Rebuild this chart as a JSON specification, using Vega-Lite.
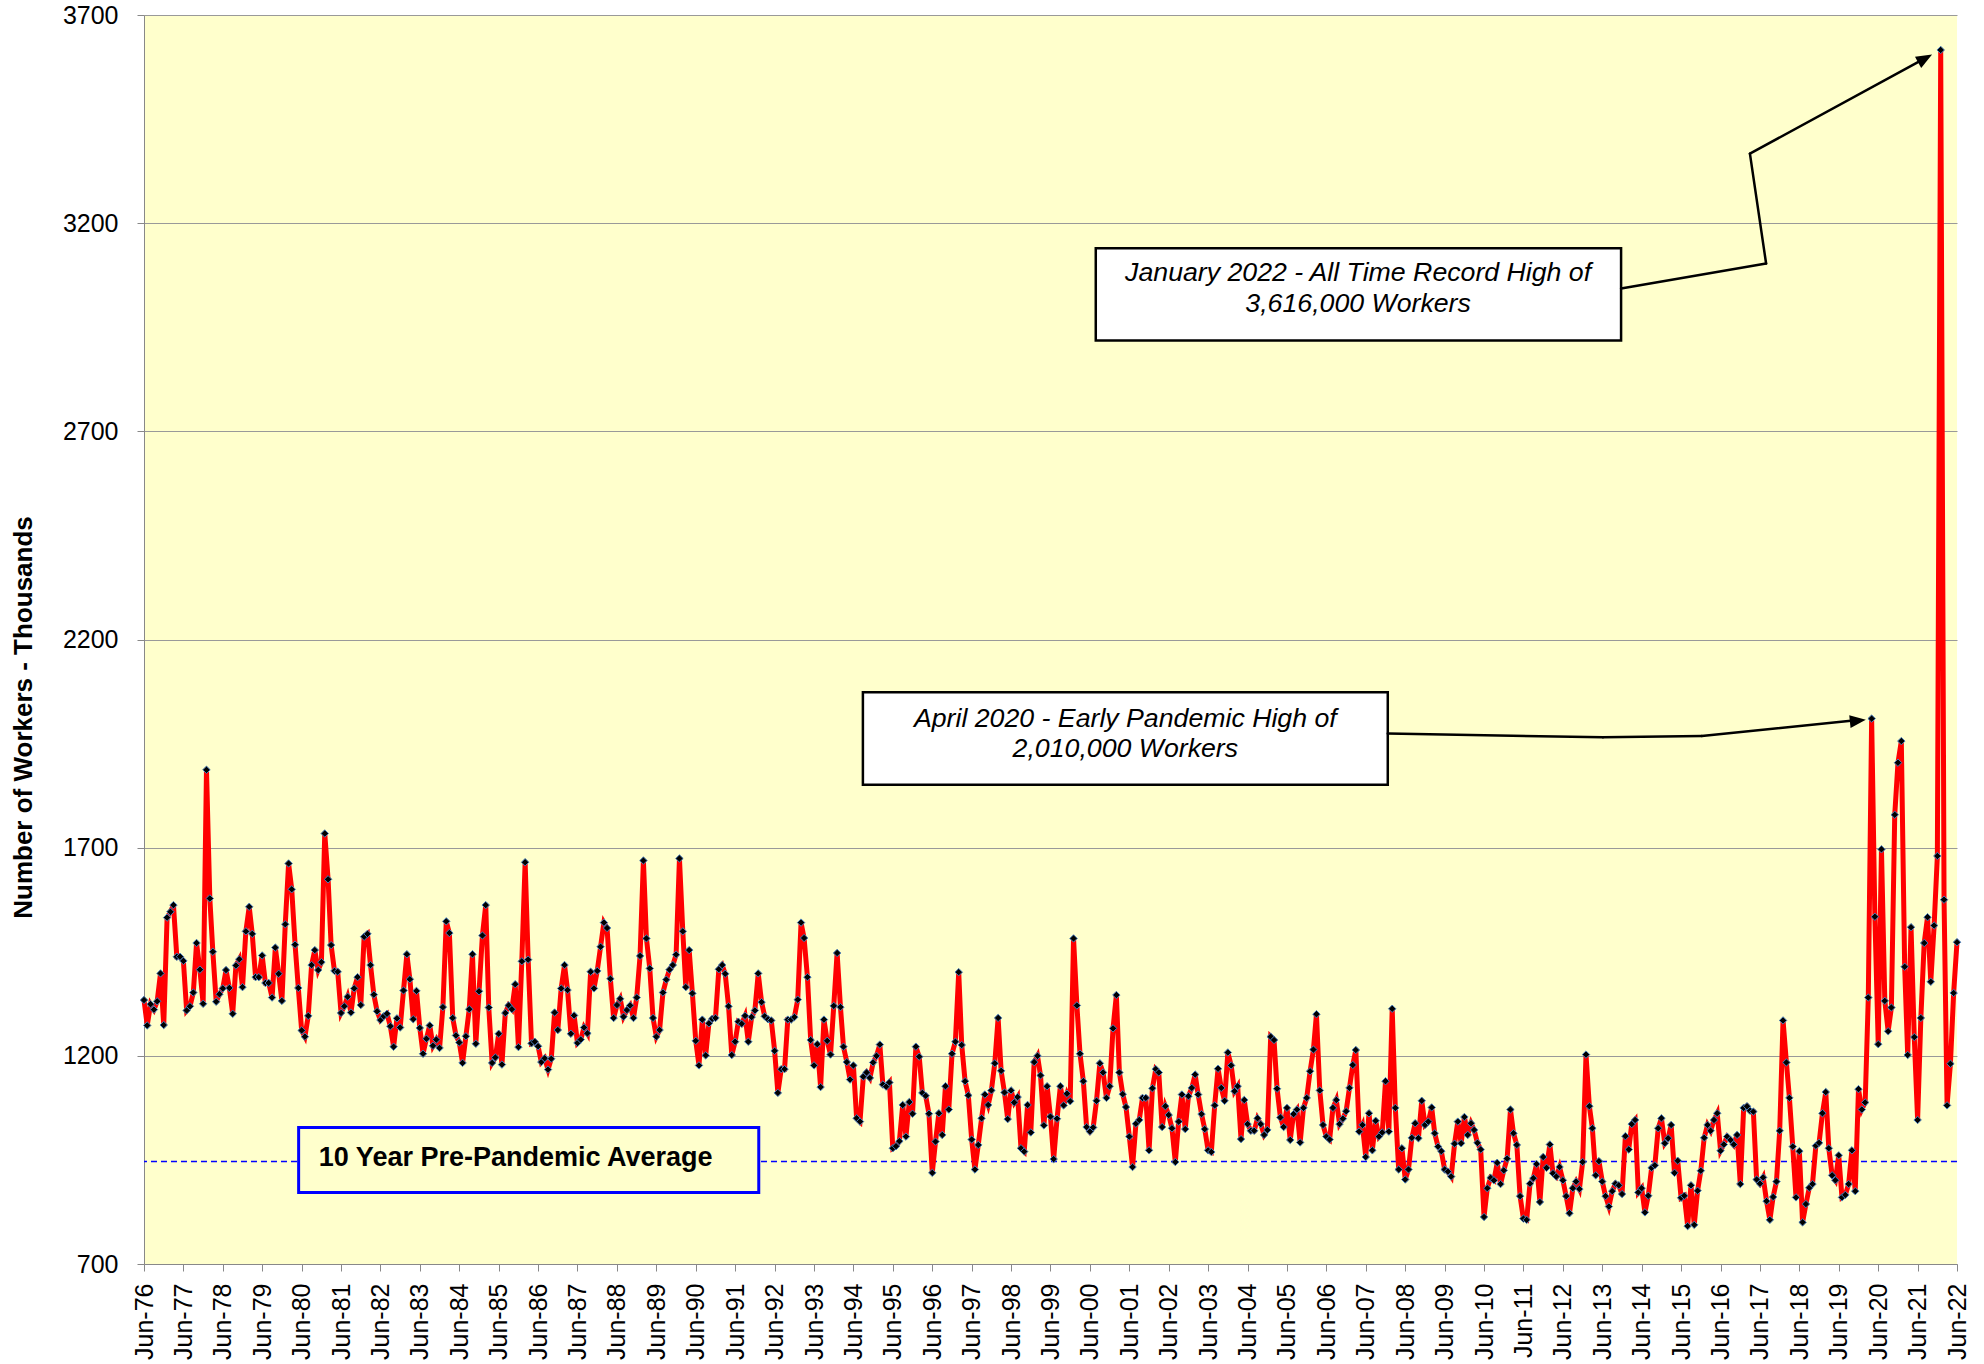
{
"$schema": "https://vega.github.io/schema/vega-lite/v6.json",
"width": 1813, "height": 1249,
"autosize": {"type": "none"},
"padding": {"left": 144, "top": 15, "right": 27, "bottom": 100},
"background": "white",
"config": {"view": {"fill": "#FFFFCC", "stroke": null}, "font": "Liberation Sans", "axis": {"labelOverlap": false, "labelSeparation": 0}},
"data": {"values": [
{"d":"1976-06","v":1334},{"d":"1976-07","v":1273},{"d":"1976-08","v":1324},{"d":"1976-09","v":1311},{"d":"1976-10","v":1331},{"d":"1976-11","v":1398},{"d":"1976-12","v":1274},
{"d":"1977-01","v":1532},{"d":"1977-02","v":1546},{"d":"1977-03","v":1562},{"d":"1977-04","v":1438},{"d":"1977-05","v":1438},{"d":"1977-06","v":1428},{"d":"1977-07","v":1309},{"d":"1977-08","v":1319},{"d":"1977-09","v":1352},{"d":"1977-10","v":1471},{"d":"1977-11","v":1407},{"d":"1977-12","v":1325},
{"d":"1978-01","v":1887},{"d":"1978-02","v":1578},{"d":"1978-03","v":1450},{"d":"1978-04","v":1330},{"d":"1978-05","v":1348},{"d":"1978-06","v":1362},{"d":"1978-07","v":1406},{"d":"1978-08","v":1363},{"d":"1978-09","v":1301},{"d":"1978-10","v":1417},{"d":"1978-11","v":1432},{"d":"1978-12","v":1365},
{"d":"1979-01","v":1499},{"d":"1979-02","v":1558},{"d":"1979-03","v":1493},{"d":"1979-04","v":1389},{"d":"1979-05","v":1389},{"d":"1979-06","v":1441},{"d":"1979-07","v":1375},{"d":"1979-08","v":1375},{"d":"1979-09","v":1340},{"d":"1979-10","v":1460},{"d":"1979-11","v":1397},{"d":"1979-12","v":1332},
{"d":"1980-01","v":1516},{"d":"1980-02","v":1662},{"d":"1980-03","v":1600},{"d":"1980-04","v":1467},{"d":"1980-05","v":1363},{"d":"1980-06","v":1261},{"d":"1980-07","v":1246},{"d":"1980-08","v":1296},{"d":"1980-09","v":1418},{"d":"1980-10","v":1454},{"d":"1980-11","v":1406},{"d":"1980-12","v":1425},
{"d":"1981-01","v":1734},{"d":"1981-02","v":1624},{"d":"1981-03","v":1466},{"d":"1981-04","v":1404},{"d":"1981-05","v":1402},{"d":"1981-06","v":1303},{"d":"1981-07","v":1319},{"d":"1981-08","v":1342},{"d":"1981-09","v":1304},{"d":"1981-10","v":1362},{"d":"1981-11","v":1389},{"d":"1981-12","v":1322},
{"d":"1982-01","v":1486},{"d":"1982-02","v":1493},{"d":"1982-03","v":1418},{"d":"1982-04","v":1347},{"d":"1982-05","v":1307},{"d":"1982-06","v":1286},{"d":"1982-07","v":1295},{"d":"1982-08","v":1301},{"d":"1982-09","v":1271},{"d":"1982-10","v":1222},{"d":"1982-11","v":1290},{"d":"1982-12","v":1268},
{"d":"1983-01","v":1357},{"d":"1983-02","v":1444},{"d":"1983-03","v":1384},{"d":"1983-04","v":1288},{"d":"1983-05","v":1356},{"d":"1983-06","v":1267},{"d":"1983-07","v":1205},{"d":"1983-08","v":1241},{"d":"1983-09","v":1273},{"d":"1983-10","v":1224},{"d":"1983-11","v":1239},{"d":"1983-12","v":1219},
{"d":"1984-01","v":1317},{"d":"1984-02","v":1523},{"d":"1984-03","v":1495},{"d":"1984-04","v":1291},{"d":"1984-05","v":1249},{"d":"1984-06","v":1232},{"d":"1984-07","v":1183},{"d":"1984-08","v":1247},{"d":"1984-09","v":1312},{"d":"1984-10","v":1444},{"d":"1984-11","v":1229},{"d":"1984-12","v":1355},
{"d":"1985-01","v":1489},{"d":"1985-02","v":1562},{"d":"1985-03","v":1316},{"d":"1985-04","v":1183},{"d":"1985-05","v":1196},{"d":"1985-06","v":1253},{"d":"1985-07","v":1179},{"d":"1985-08","v":1303},{"d":"1985-09","v":1321},{"d":"1985-10","v":1312},{"d":"1985-11","v":1372},{"d":"1985-12","v":1221},
{"d":"1986-01","v":1427},{"d":"1986-02","v":1665},{"d":"1986-03","v":1431},{"d":"1986-04","v":1230},{"d":"1986-05","v":1234},{"d":"1986-06","v":1223},{"d":"1986-07","v":1185},{"d":"1986-08","v":1194},{"d":"1986-09","v":1167},{"d":"1986-10","v":1193},{"d":"1986-11","v":1304},{"d":"1986-12","v":1262},
{"d":"1987-01","v":1362},{"d":"1987-02","v":1418},{"d":"1987-03","v":1358},{"d":"1987-04","v":1253},{"d":"1987-05","v":1297},{"d":"1987-06","v":1231},{"d":"1987-07","v":1239},{"d":"1987-08","v":1268},{"d":"1987-09","v":1254},{"d":"1987-10","v":1402},{"d":"1987-11","v":1362},{"d":"1987-12","v":1404},
{"d":"1988-01","v":1462},{"d":"1988-02","v":1520},{"d":"1988-03","v":1507},{"d":"1988-04","v":1385},{"d":"1988-05","v":1291},{"d":"1988-06","v":1322},{"d":"1988-07","v":1337},{"d":"1988-08","v":1294},{"d":"1988-09","v":1310},{"d":"1988-10","v":1321},{"d":"1988-11","v":1291},{"d":"1988-12","v":1340},
{"d":"1989-01","v":1440},{"d":"1989-02","v":1669},{"d":"1989-03","v":1482},{"d":"1989-04","v":1410},{"d":"1989-05","v":1291},{"d":"1989-06","v":1246},{"d":"1989-07","v":1262},{"d":"1989-08","v":1352},{"d":"1989-09","v":1383},{"d":"1989-10","v":1407},{"d":"1989-11","v":1418},{"d":"1989-12","v":1443},
{"d":"1990-01","v":1674},{"d":"1990-02","v":1499},{"d":"1990-03","v":1365},{"d":"1990-04","v":1454},{"d":"1990-05","v":1350},{"d":"1990-06","v":1236},{"d":"1990-07","v":1177},{"d":"1990-08","v":1287},{"d":"1990-09","v":1201},{"d":"1990-10","v":1278},{"d":"1990-11","v":1289},{"d":"1990-12","v":1291},
{"d":"1991-01","v":1408},{"d":"1991-02","v":1418},{"d":"1991-03","v":1397},{"d":"1991-04","v":1319},{"d":"1991-05","v":1202},{"d":"1991-06","v":1234},{"d":"1991-07","v":1282},{"d":"1991-08","v":1277},{"d":"1991-09","v":1296},{"d":"1991-10","v":1234},{"d":"1991-11","v":1293},{"d":"1991-12","v":1309},
{"d":"1992-01","v":1398},{"d":"1992-02","v":1329},{"d":"1992-03","v":1295},{"d":"1992-04","v":1288},{"d":"1992-05","v":1285},{"d":"1992-06","v":1212},{"d":"1992-07","v":1111},{"d":"1992-08","v":1168},{"d":"1992-09","v":1168},{"d":"1992-10","v":1287},{"d":"1992-11","v":1287},{"d":"1992-12","v":1293},
{"d":"1993-01","v":1335},{"d":"1993-02","v":1520},{"d":"1993-03","v":1483},{"d":"1993-04","v":1389},{"d":"1993-05","v":1238},{"d":"1993-06","v":1177},{"d":"1993-07","v":1228},{"d":"1993-08","v":1125},{"d":"1993-09","v":1287},{"d":"1993-10","v":1236},{"d":"1993-11","v":1203},{"d":"1993-12","v":1320},
{"d":"1994-01","v":1447},{"d":"1994-02","v":1317},{"d":"1994-03","v":1222},{"d":"1994-04","v":1185},{"d":"1994-05","v":1143},{"d":"1994-06","v":1177},{"d":"1994-07","v":1050},{"d":"1994-08","v":1042},{"d":"1994-09","v":1150},{"d":"1994-10","v":1160},{"d":"1994-11","v":1147},{"d":"1994-12","v":1184},
{"d":"1995-01","v":1200},{"d":"1995-02","v":1227},{"d":"1995-03","v":1131},{"d":"1995-04","v":1126},{"d":"1995-05","v":1136},{"d":"1995-06","v":978},{"d":"1995-07","v":983},{"d":"1995-08","v":995},{"d":"1995-09","v":1082},{"d":"1995-10","v":1006},{"d":"1995-11","v":1089},{"d":"1995-12","v":1061},
{"d":"1996-01","v":1222},{"d":"1996-02","v":1198},{"d":"1996-03","v":1111},{"d":"1996-04","v":1104},{"d":"1996-05","v":1061},{"d":"1996-06","v":919},{"d":"1996-07","v":994},{"d":"1996-08","v":1062},{"d":"1996-09","v":1010},{"d":"1996-10","v":1127},{"d":"1996-11","v":1071},{"d":"1996-12","v":1205},
{"d":"1997-01","v":1234},{"d":"1997-02","v":1401},{"d":"1997-03","v":1226},{"d":"1997-04","v":1139},{"d":"1997-05","v":1105},{"d":"1997-06","v":999},{"d":"1997-07","v":927},{"d":"1997-08","v":986},{"d":"1997-09","v":1050},{"d":"1997-10","v":1107},{"d":"1997-11","v":1082},{"d":"1997-12","v":1117},
{"d":"1998-01","v":1182},{"d":"1998-02","v":1291},{"d":"1998-03","v":1164},{"d":"1998-04","v":1112},{"d":"1998-05","v":1048},{"d":"1998-06","v":1117},{"d":"1998-07","v":1088},{"d":"1998-08","v":1101},{"d":"1998-09","v":978},{"d":"1998-10","v":970},{"d":"1998-11","v":1082},{"d":"1998-12","v":1016},
{"d":"1999-01","v":1185},{"d":"1999-02","v":1200},{"d":"1999-03","v":1153},{"d":"1999-04","v":1033},{"d":"1999-05","v":1127},{"d":"1999-06","v":1054},{"d":"1999-07","v":952},{"d":"1999-08","v":1049},{"d":"1999-09","v":1127},{"d":"1999-10","v":1081},{"d":"1999-11","v":1109},{"d":"1999-12","v":1091},
{"d":"2000-01","v":1482},{"d":"2000-02","v":1321},{"d":"2000-03","v":1205},{"d":"2000-04","v":1139},{"d":"2000-05","v":1029},{"d":"2000-06","v":1018},{"d":"2000-07","v":1028},{"d":"2000-08","v":1092},{"d":"2000-09","v":1182},{"d":"2000-10","v":1160},{"d":"2000-11","v":1099},{"d":"2000-12","v":1127},
{"d":"2001-01","v":1266},{"d":"2001-02","v":1346},{"d":"2001-03","v":1160},{"d":"2001-04","v":1108},{"d":"2001-05","v":1077},{"d":"2001-06","v":1006},{"d":"2001-07","v":933},{"d":"2001-08","v":1037},{"d":"2001-09","v":1046},{"d":"2001-10","v":1099},{"d":"2001-11","v":1099},{"d":"2001-12","v":973},
{"d":"2002-01","v":1122},{"d":"2002-02","v":1168},{"d":"2002-03","v":1160},{"d":"2002-04","v":1029},{"d":"2002-05","v":1079},{"d":"2002-06","v":1058},{"d":"2002-07","v":1026},{"d":"2002-08","v":945},{"d":"2002-09","v":1042},{"d":"2002-10","v":1107},{"d":"2002-11","v":1024},{"d":"2002-12","v":1103},
{"d":"2003-01","v":1123},{"d":"2003-02","v":1155},{"d":"2003-03","v":1107},{"d":"2003-04","v":1060},{"d":"2003-05","v":1024},{"d":"2003-06","v":973},{"d":"2003-07","v":969},{"d":"2003-08","v":1081},{"d":"2003-09","v":1169},{"d":"2003-10","v":1123},{"d":"2003-11","v":1092},{"d":"2003-12","v":1208},
{"d":"2004-01","v":1177},{"d":"2004-02","v":1115},{"d":"2004-03","v":1127},{"d":"2004-04","v":1000},{"d":"2004-05","v":1094},{"d":"2004-06","v":1036},{"d":"2004-07","v":1020},{"d":"2004-08","v":1020},{"d":"2004-09","v":1050},{"d":"2004-10","v":1036},{"d":"2004-11","v":1010},{"d":"2004-12","v":1022},
{"d":"2005-01","v":1246},{"d":"2005-02","v":1238},{"d":"2005-03","v":1121},{"d":"2005-04","v":1052},{"d":"2005-05","v":1029},{"d":"2005-06","v":1075},{"d":"2005-07","v":998},{"d":"2005-08","v":1060},{"d":"2005-09","v":1071},{"d":"2005-10","v":992},{"d":"2005-11","v":1075},{"d":"2005-12","v":1099},
{"d":"2006-01","v":1163},{"d":"2006-02","v":1215},{"d":"2006-03","v":1300},{"d":"2006-04","v":1117},{"d":"2006-05","v":1034},{"d":"2006-06","v":1006},{"d":"2006-07","v":999},{"d":"2006-08","v":1075},{"d":"2006-09","v":1094},{"d":"2006-10","v":1036},{"d":"2006-11","v":1049},{"d":"2006-12","v":1067},
{"d":"2007-01","v":1123},{"d":"2007-02","v":1178},{"d":"2007-03","v":1214},{"d":"2007-04","v":1018},{"d":"2007-05","v":1034},{"d":"2007-06","v":957},{"d":"2007-07","v":1062},{"d":"2007-08","v":973},{"d":"2007-09","v":1044},{"d":"2007-10","v":1006},{"d":"2007-11","v":1016},{"d":"2007-12","v":1139},
{"d":"2008-01","v":1018},{"d":"2008-02","v":1313},{"d":"2008-03","v":1075},{"d":"2008-04","v":927},{"d":"2008-05","v":978},{"d":"2008-06","v":903},{"d":"2008-07","v":927},{"d":"2008-08","v":1003},{"d":"2008-09","v":1038},{"d":"2008-10","v":1002},{"d":"2008-11","v":1092},{"d":"2008-12","v":1034},
{"d":"2009-01","v":1042},{"d":"2009-02","v":1076},{"d":"2009-03","v":1014},{"d":"2009-04","v":982},{"d":"2009-05","v":971},{"d":"2009-06","v":927},{"d":"2009-07","v":922},{"d":"2009-08","v":910},{"d":"2009-09","v":989},{"d":"2009-10","v":1042},{"d":"2009-11","v":990},{"d":"2009-12","v":1053},
{"d":"2010-01","v":1010},{"d":"2010-02","v":1038},{"d":"2010-03","v":1022},{"d":"2010-04","v":991},{"d":"2010-05","v":975},{"d":"2010-06","v":813},{"d":"2010-07","v":882},{"d":"2010-08","v":907},{"d":"2010-09","v":901},{"d":"2010-10","v":943},{"d":"2010-11","v":892},{"d":"2010-12","v":925},
{"d":"2011-01","v":953},{"d":"2011-02","v":1071},{"d":"2011-03","v":1014},{"d":"2011-04","v":986},{"d":"2011-05","v":863},{"d":"2011-06","v":809},{"d":"2011-07","v":806},{"d":"2011-08","v":893},{"d":"2011-09","v":906},{"d":"2011-10","v":940},{"d":"2011-11","v":849},{"d":"2011-12","v":957},
{"d":"2012-01","v":931},{"d":"2012-02","v":987},{"d":"2012-03","v":918},{"d":"2012-04","v":910},{"d":"2012-05","v":933},{"d":"2012-06","v":901},{"d":"2012-07","v":863},{"d":"2012-08","v":822},{"d":"2012-09","v":882},{"d":"2012-10","v":898},{"d":"2012-11","v":880},{"d":"2012-12","v":945},
{"d":"2013-01","v":1203},{"d":"2013-02","v":1079},{"d":"2013-03","v":1026},{"d":"2013-04","v":913},{"d":"2013-05","v":947},{"d":"2013-06","v":898},{"d":"2013-07","v":863},{"d":"2013-08","v":838},{"d":"2013-09","v":875},{"d":"2013-10","v":893},{"d":"2013-11","v":889},{"d":"2013-12","v":868},
{"d":"2014-01","v":1007},{"d":"2014-02","v":975},{"d":"2014-03","v":1036},{"d":"2014-04","v":1046},{"d":"2014-05","v":872},{"d":"2014-06","v":882},{"d":"2014-07","v":824},{"d":"2014-08","v":864},{"d":"2014-09","v":931},{"d":"2014-10","v":937},{"d":"2014-11","v":1026},{"d":"2014-12","v":1050},
{"d":"2015-01","v":990},{"d":"2015-02","v":1002},{"d":"2015-03","v":1034},{"d":"2015-04","v":919},{"d":"2015-05","v":948},{"d":"2015-06","v":859},{"d":"2015-07","v":864},{"d":"2015-08","v":791},{"d":"2015-09","v":889},{"d":"2015-10","v":794},{"d":"2015-11","v":876},{"d":"2015-12","v":924},
{"d":"2016-01","v":1003},{"d":"2016-02","v":1034},{"d":"2016-03","v":1020},{"d":"2016-04","v":1046},{"d":"2016-05","v":1062},{"d":"2016-06","v":972},{"d":"2016-07","v":987},{"d":"2016-08","v":1006},{"d":"2016-09","v":998},{"d":"2016-10","v":987},{"d":"2016-11","v":1010},{"d":"2016-12","v":892},
{"d":"2017-01","v":1075},{"d":"2017-02","v":1079},{"d":"2017-03","v":1068},{"d":"2017-04","v":1066},{"d":"2017-05","v":903},{"d":"2017-06","v":893},{"d":"2017-07","v":908},{"d":"2017-08","v":851},{"d":"2017-09","v":806},{"d":"2017-10","v":861},{"d":"2017-11","v":898},{"d":"2017-12","v":1020},
{"d":"2018-01","v":1285},{"d":"2018-02","v":1184},{"d":"2018-03","v":1099},{"d":"2018-04","v":982},{"d":"2018-05","v":860},{"d":"2018-06","v":971},{"d":"2018-07","v":800},{"d":"2018-08","v":844},{"d":"2018-09","v":883},{"d":"2018-10","v":892},{"d":"2018-11","v":984},{"d":"2018-12","v":991},
{"d":"2019-01","v":1062},{"d":"2019-02","v":1113},{"d":"2019-03","v":978},{"d":"2019-04","v":913},{"d":"2019-05","v":901},{"d":"2019-06","v":961},{"d":"2019-07","v":860},{"d":"2019-08","v":866},{"d":"2019-09","v":892},{"d":"2019-10","v":973},{"d":"2019-11","v":875},{"d":"2019-12","v":1120},
{"d":"2020-01","v":1071},{"d":"2020-02","v":1088},{"d":"2020-03","v":1340},{"d":"2020-04","v":2010},{"d":"2020-05","v":1534},{"d":"2020-06","v":1228},{"d":"2020-07","v":1696},{"d":"2020-08","v":1332},{"d":"2020-09","v":1259},{"d":"2020-10","v":1316},{"d":"2020-11","v":1779},{"d":"2020-12","v":1904},
{"d":"2021-01","v":1956},{"d":"2021-02","v":1414},{"d":"2021-03","v":1202},{"d":"2021-04","v":1509},{"d":"2021-05","v":1245},{"d":"2021-06","v":1046},{"d":"2021-07","v":1291},{"d":"2021-08","v":1471},{"d":"2021-09","v":1533},{"d":"2021-10","v":1378},{"d":"2021-11","v":1513},{"d":"2021-12","v":1680},
{"d":"2022-01","v":3616},{"d":"2022-02","v":1575},{"d":"2022-03","v":1081},{"d":"2022-04","v":1181},{"d":"2022-05","v":1351},{"d":"2022-06","v":1473}
]},
"layer": [
{"mark": {"type": "line", "color": "#FF0000", "strokeWidth": 5, "opacity": 0},
 "encoding": {
  "x": {"field": "d", "type": "temporal",
   "scale": {"type": "utc", "domain": [{"year": 1976, "month": 6, "date": 1, "utc": true}, {"year": 2022, "month": 6, "date": 1, "utc": true}]},
   "axis": {"title": null, "format": "%b-%y", "labelAngle": 270, "labelFontSize": 25, "labelColor": "black", "labelPadding": 12, "tickCount": 100,
    "tickSize": 7, "tickColor": "#888888", "domainColor": "#888888", "grid": false, "labelOverlap": false, "labelSeparation": 0, "labelFlush": false, "labelBound": false,
    "values": [
     {"year":1976,"month":6,"date":1,"utc":true},{"year":1977,"month":6,"date":1,"utc":true},{"year":1978,"month":6,"date":1,"utc":true},{"year":1979,"month":6,"date":1,"utc":true},
     {"year":1980,"month":6,"date":1,"utc":true},{"year":1981,"month":6,"date":1,"utc":true},{"year":1982,"month":6,"date":1,"utc":true},{"year":1983,"month":6,"date":1,"utc":true},
     {"year":1984,"month":6,"date":1,"utc":true},{"year":1985,"month":6,"date":1,"utc":true},{"year":1986,"month":6,"date":1,"utc":true},{"year":1987,"month":6,"date":1,"utc":true},
     {"year":1988,"month":6,"date":1,"utc":true},{"year":1989,"month":6,"date":1,"utc":true},{"year":1990,"month":6,"date":1,"utc":true},{"year":1991,"month":6,"date":1,"utc":true},
     {"year":1992,"month":6,"date":1,"utc":true},{"year":1993,"month":6,"date":1,"utc":true},{"year":1994,"month":6,"date":1,"utc":true},{"year":1995,"month":6,"date":1,"utc":true},
     {"year":1996,"month":6,"date":1,"utc":true},{"year":1997,"month":6,"date":1,"utc":true},{"year":1998,"month":6,"date":1,"utc":true},{"year":1999,"month":6,"date":1,"utc":true},
     {"year":2000,"month":6,"date":1,"utc":true},{"year":2001,"month":6,"date":1,"utc":true},{"year":2002,"month":6,"date":1,"utc":true},{"year":2003,"month":6,"date":1,"utc":true},
     {"year":2004,"month":6,"date":1,"utc":true},{"year":2005,"month":6,"date":1,"utc":true},{"year":2006,"month":6,"date":1,"utc":true},{"year":2007,"month":6,"date":1,"utc":true},
     {"year":2008,"month":6,"date":1,"utc":true},{"year":2009,"month":6,"date":1,"utc":true},{"year":2010,"month":6,"date":1,"utc":true},{"year":2011,"month":6,"date":1,"utc":true},
     {"year":2012,"month":6,"date":1,"utc":true},{"year":2013,"month":6,"date":1,"utc":true},{"year":2014,"month":6,"date":1,"utc":true},{"year":2015,"month":6,"date":1,"utc":true},
     {"year":2016,"month":6,"date":1,"utc":true},{"year":2017,"month":6,"date":1,"utc":true},{"year":2018,"month":6,"date":1,"utc":true},{"year":2019,"month":6,"date":1,"utc":true},
     {"year":2020,"month":6,"date":1,"utc":true},{"year":2021,"month":6,"date":1,"utc":true},{"year":2022,"month":6,"date":1,"utc":true}]}},
  "y": {"field": "v", "type": "quantitative",
   "scale": {"domain": [700, 3700], "nice": false, "zero": false},
   "axis": {"title": "Number of Workers - Thousands", "titleFontSize": 26, "titleFontWeight": "bold", "titleColor": "black", "titlePadding": 26, "titleY": 702,
    "format": "d", "values": [700, 1200, 1700, 2200, 2700, 3200, 3700], "tickCount": 20, "labelFontSize": 25, "labelColor": "black", "labelPadding": 19, "tickSize": 7,
    "tickColor": "#888888", "domainColor": "#888888", "grid": true, "gridColor": "#999999", "gridWidth": 1, "labelFlush": false, "labelBound": false}}}},
{"data": {"values": [{}]},
 "mark": {"type": "rule", "color": "#0000FF", "strokeWidth": 1.5, "strokeDash": [6, 4]},
 "encoding": {"y": {"datum": 946, "type": "quantitative"}}},
{"data": {"values": [{}]},
 "mark": {"type": "rect", "fill": "#FFFFCC", "stroke": "#0000FF", "strokeWidth": 3},
 "encoding": {
  "x": {"datum": {"year": 1980, "month": 5, "date": 4, "utc": true}, "type": "temporal", "scale": {"type": "utc"}},
  "x2": {"datum": {"year": 1992, "month": 1, "date": 6, "utc": true}},
  "y": {"datum": 872, "type": "quantitative"},
  "y2": {"datum": 1028}}},
{"data": {"values": [{}]},
 "mark": {"type": "text", "align": "left", "baseline": "middle", "fontSize": 27, "fontWeight": "bold", "color": "black"},
 "encoding": {
  "x": {"datum": {"year": 1980, "month": 11, "date": 7, "utc": true}, "type": "temporal", "scale": {"type": "utc"}},
  "y": {"datum": 955, "type": "quantitative"},
  "text": {"value": "10 Year Pre-Pandemic Average"}}},
{"mark": {"type": "line", "color": "#FF0000", "strokeWidth": 5},
 "encoding": {
  "x": {"field": "d", "type": "temporal", "scale": {"type": "utc"}},
  "y": {"field": "v", "type": "quantitative"}}},
{"mark": {"type": "point", "shape": "diamond", "filled": true, "fill": "black", "stroke": "#4A7EBB", "strokeWidth": 1, "size": 55, "opacity": 1},
 "encoding": {
  "x": {"field": "d", "type": "temporal", "scale": {"type": "utc"}},
  "y": {"field": "v", "type": "quantitative"}}},
{"data": {"values": [{}]},
 "mark": {"type": "rect", "fill": "white", "stroke": "black", "strokeWidth": 2.5},
 "encoding": {
  "x": {"datum": {"year": 1994, "month": 8, "date": 28, "utc": true}, "type": "temporal", "scale": {"type": "utc"}},
  "x2": {"datum": {"year": 2007, "month": 12, "date": 22, "utc": true}},
  "y": {"datum": 1851, "type": "quantitative"},
  "y2": {"datum": 2073}}},
{"data": {"values": [{}]},
 "mark": {"type": "text", "align": "center", "baseline": "middle", "fontSize": 26.7, "fontStyle": "italic", "color": "black"},
 "encoding": {
  "x": {"datum": {"year": 2001, "month": 4, "date": 25, "utc": true}, "type": "temporal", "scale": {"type": "utc"}},
  "y": {"datum": 2008, "type": "quantitative"},
  "text": {"value": "April 2020 - Early Pandemic High of"}}},
{"data": {"values": [{}]},
 "mark": {"type": "text", "align": "center", "baseline": "middle", "fontSize": 26.7, "fontStyle": "italic", "color": "black"},
 "encoding": {
  "x": {"datum": {"year": 2001, "month": 4, "date": 25, "utc": true}, "type": "temporal", "scale": {"type": "utc"}},
  "y": {"datum": 1936, "type": "quantitative"},
  "text": {"value": "2,010,000 Workers"}}},
{"data": {"values": [{}]},
 "mark": {"type": "rect", "fill": "white", "stroke": "black", "strokeWidth": 2.5},
 "encoding": {
  "x": {"datum": {"year": 2000, "month": 7, "date": 25, "utc": true}, "type": "temporal", "scale": {"type": "utc"}},
  "x2": {"datum": {"year": 2013, "month": 11, "date": 22, "utc": true}},
  "y": {"datum": 2918, "type": "quantitative"},
  "y2": {"datum": 3140}}},
{"data": {"values": [{}]},
 "mark": {"type": "text", "align": "center", "baseline": "middle", "fontSize": 26.7, "fontStyle": "italic", "color": "black"},
 "encoding": {
  "x": {"datum": {"year": 2007, "month": 3, "date": 22, "utc": true}, "type": "temporal", "scale": {"type": "utc"}},
  "y": {"datum": 3080, "type": "quantitative"},
  "text": {"value": "January 2022 - All Time Record High of"}}},
{"data": {"values": [{}]},
 "mark": {"type": "text", "align": "center", "baseline": "middle", "fontSize": 26.7, "fontStyle": "italic", "color": "black"},
 "encoding": {
  "x": {"datum": {"year": 2007, "month": 3, "date": 22, "utc": true}, "type": "temporal", "scale": {"type": "utc"}},
  "y": {"datum": 3005, "type": "quantitative"},
  "text": {"value": "3,616,000 Workers"}}},
{"data": {"values": [{}]},
 "mark": {"type": "rule", "color": "black", "strokeWidth": 2.5, "strokeCap": "round"},
 "encoding": {
  "x": {"datum": {"year": 2007, "month": 12, "date": 22, "utc": true}, "type": "temporal", "scale": {"type": "utc"}},
  "x2": {"datum": {"year": 2013, "month": 6, "date": 7, "utc": true}},
  "y": {"datum": 1974, "type": "quantitative"},
  "y2": {"datum": 1965}}},
{"data": {"values": [{}]},
 "mark": {"type": "rule", "color": "black", "strokeWidth": 2.5, "strokeCap": "round"},
 "encoding": {
  "x": {"datum": {"year": 2013, "month": 6, "date": 7, "utc": true}, "type": "temporal", "scale": {"type": "utc"}},
  "x2": {"datum": {"year": 2015, "month": 12, "date": 10, "utc": true}},
  "y": {"datum": 1965, "type": "quantitative"},
  "y2": {"datum": 1968}}},
{"data": {"values": [{}]},
 "mark": {"type": "rule", "color": "black", "strokeWidth": 2.5, "strokeCap": "round"},
 "encoding": {
  "x": {"datum": {"year": 2015, "month": 12, "date": 10, "utc": true}, "type": "temporal", "scale": {"type": "utc"}},
  "x2": {"datum": {"year": 2019, "month": 9, "date": 22, "utc": true}},
  "y": {"datum": 1968, "type": "quantitative"},
  "y2": {"datum": 2005}}},
{"data": {"values": [{}]},
 "mark": {"type": "point", "shape": "M 0 0 L -2 -0.8 L -2 0.8 Z", "filled": true, "fill": "black", "strokeWidth": 0, "size": 256, "opacity": 1, "angle": 354},
 "encoding": {
  "x": {"datum": {"year": 2020, "month": 2, "date": 7, "utc": true}, "type": "temporal", "scale": {"type": "utc"}},
  "y": {"datum": 2007, "type": "quantitative"}}},
{"data": {"values": [{}]},
 "mark": {"type": "rule", "color": "black", "strokeWidth": 2.5, "strokeCap": "round"},
 "encoding": {
  "x": {"datum": {"year": 2013, "month": 11, "date": 22, "utc": true}, "type": "temporal", "scale": {"type": "utc"}},
  "x2": {"datum": {"year": 2017, "month": 7, "date": 28, "utc": true}},
  "y": {"datum": 3043, "type": "quantitative"},
  "y2": {"datum": 3103}}},
{"data": {"values": [{}]},
 "mark": {"type": "rule", "color": "black", "strokeWidth": 2.5, "strokeCap": "round"},
 "encoding": {
  "x": {"datum": {"year": 2017, "month": 7, "date": 28, "utc": true}, "type": "temporal", "scale": {"type": "utc"}},
  "x2": {"datum": {"year": 2017, "month": 2, "date": 28, "utc": true}},
  "y": {"datum": 3103, "type": "quantitative"},
  "y2": {"datum": 3367}}},
{"data": {"values": [{}]},
 "mark": {"type": "rule", "color": "black", "strokeWidth": 2.5, "strokeCap": "round"},
 "encoding": {
  "x": {"datum": {"year": 2017, "month": 2, "date": 28, "utc": true}, "type": "temporal", "scale": {"type": "utc"}},
  "x2": {"datum": {"year": 2021, "month": 6, "date": 13, "utc": true}},
  "y": {"datum": 3367, "type": "quantitative"},
  "y2": {"datum": 3588}}},
{"data": {"values": [{}]},
 "mark": {"type": "point", "shape": "M 0 0 L -2 -0.8 L -2 0.8 Z", "filled": true, "fill": "black", "strokeWidth": 0, "size": 256, "opacity": 1, "angle": 331},
 "encoding": {
  "x": {"datum": {"year": 2021, "month": 10, "date": 13, "utc": true}, "type": "temporal", "scale": {"type": "utc"}},
  "y": {"datum": 3605, "type": "quantitative"}}}
]
}
